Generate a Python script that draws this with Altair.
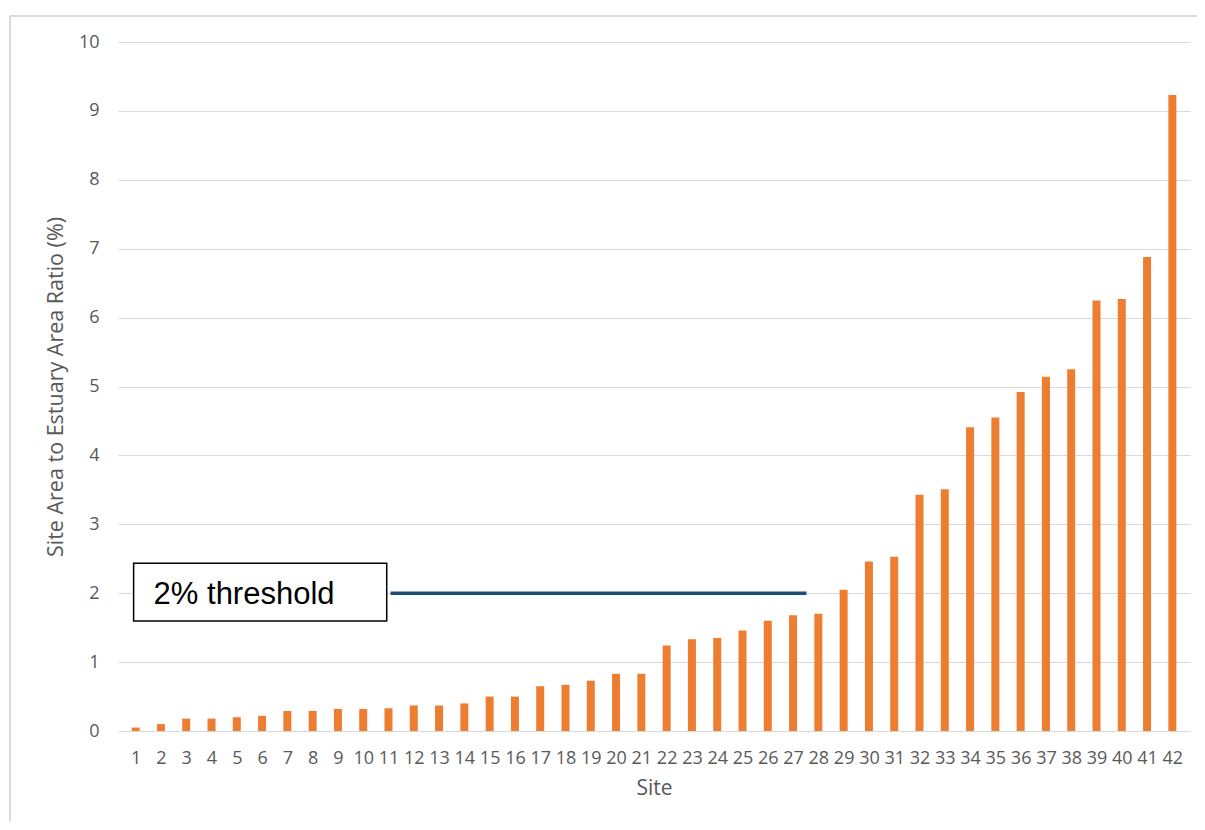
import altair as alt
import pandas as pd

# ---- data ----
sites = list(range(1, 43))
ratios = [0.05, 0.10, 0.18, 0.18, 0.20, 0.22, 0.29, 0.29, 0.32, 0.32,
          0.33, 0.37, 0.37, 0.40, 0.50, 0.50, 0.65, 0.67, 0.73, 0.83,
          0.83, 1.24, 1.33, 1.35, 1.46, 1.60, 1.68, 1.70, 2.05, 2.46,
          2.53, 3.43, 3.51, 4.41, 4.55, 4.92, 5.14, 5.25, 6.25, 6.27,
          6.88, 9.23]
y_ticks = list(range(0, 11))

threshold_value = [2.0]
threshold_from = [11.08]
threshold_to = [27.53]

label_text = ["2% threshold"]
label_box_x = [0.92]
label_box_x2 = [10.93]
label_box_y = [1.597]
label_box_y2 = [2.434]
label_text_x = [1.71]
label_text_y = [1.84]

df = pd.DataFrame({"Site": sites, "Ratio": ratios})
thr = pd.DataFrame({"x": threshold_from, "x2": threshold_to, "y": threshold_value})
box = pd.DataFrame({"x": label_box_x, "x2": label_box_x2, "y": label_box_y, "y2": label_box_y2})
txt = pd.DataFrame({"x": label_text_x, "y": label_text_y, "t": label_text})

W, H = 1072, 689
xscale = alt.Scale(domain=[0.5, 42.5], nice=False, zero=False)
yscale = alt.Scale(domain=[0, 10], nice=False)

FONT = "Open Sans"
GREY = "#595959"

bars = alt.Chart(df).mark_bar(size=8, color="#ED7D31").encode(
    x=alt.X("Site:Q", scale=xscale,
            axis=alt.Axis(values=sites, format="d", title="Site",
                          grid=False, ticks=False, tickSize=0, domain=False,
                          labelPadding=18, labelFlush=False, labelOverlap=False,
                          labelBound=False, labelFont=FONT, labelFontSize=18,
                          labelColor=GREY, titleFont=FONT, titleFontSize=21,
                          titleFontWeight="normal", titleColor=GREY, titlePadding=10)),
    y=alt.Y("Ratio:Q", scale=yscale,
            axis=alt.Axis(values=y_ticks, format="d",
                          title="Site Area to Estuary Area Ratio (%)",
                          grid=True, gridColor="#d9d9d9", gridWidth=1,
                          ticks=False, tickSize=0, domain=False, labelPadding=19,
                          labelOverlap=False, labelFont=FONT, labelFontSize=18,
                          labelColor=GREY, titleFont=FONT, titleFontSize=21.5,
                          titleFontWeight="normal", titleColor=GREY, titlePadding=11)),
)

rule = alt.Chart(thr).mark_rule(color="#1F4E79", strokeWidth=3.5).encode(
    x=alt.X("x:Q", scale=xscale, axis=None), x2="x2:Q",
    y=alt.Y("y:Q", scale=yscale, axis=None)
)

boxmark = alt.Chart(box).mark_rect(fill="white", stroke="black", strokeWidth=1.5).encode(
    x=alt.X("x:Q", scale=xscale, axis=None), x2="x2:Q",
    y=alt.Y("y:Q", scale=yscale, axis=None), y2="y2:Q"
)

textmark = alt.Chart(txt).mark_text(align="left", baseline="alphabetic", fontSize=31,
                                    font="Liberation Sans", color="black").encode(
    x=alt.X("x:Q", scale=xscale, axis=None), y=alt.Y("y:Q", scale=yscale, axis=None),
    text="t:N"
)

frame_top = alt.Chart(pd.DataFrame({"k": [0]})).mark_rule(
    stroke="#d9d9d9", strokeWidth=2).encode(
    x=alt.value(-108), x2=alt.value(W + 60), y=alt.value(-26)
)
frame_left = alt.Chart(pd.DataFrame({"k": [0]})).mark_rule(
    stroke="#d9d9d9", strokeWidth=2).encode(
    x=alt.value(-108), y=alt.value(-26), y2=alt.value(H + 200)
)

chart = alt.layer(bars, frame_top, frame_left, rule, boxmark, textmark).resolve_axis(
    x="independent", y="independent"
).properties(
    width=W, height=H,
    background="white",
    autosize=alt.AutoSizeParams(type="none"),
    padding={"left": 110, "top": 34, "right": 7, "bottom": 90},
).configure_view(stroke=None)

chart.save("out.html", embed_options={"renderer": "svg", "actions": False})
